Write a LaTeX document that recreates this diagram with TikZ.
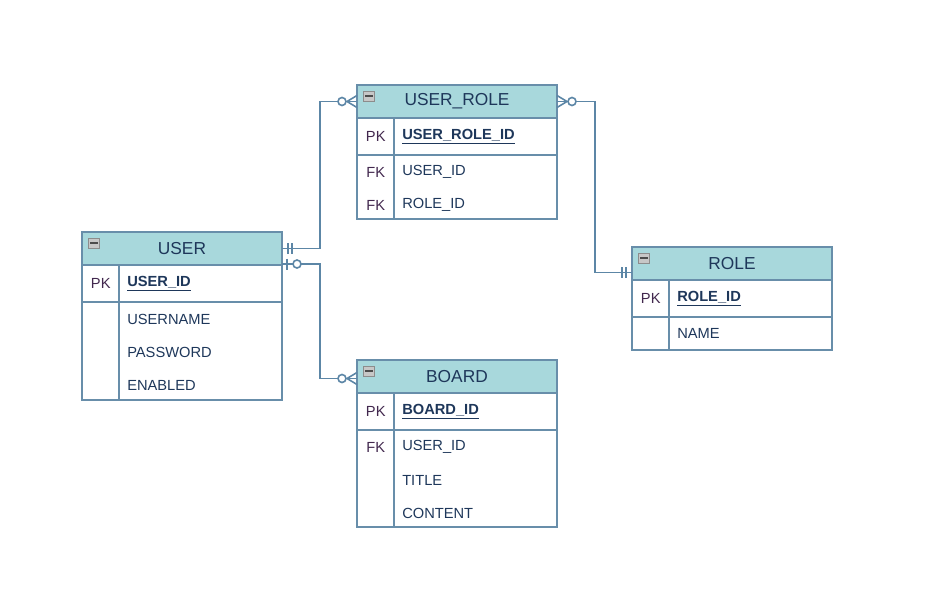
\documentclass[tikz,border=0pt]{standalone}
\usepackage{fontspec}
\setmainfont{Liberation Sans}
\usepackage{tikz}
\usetikzlibrary{positioning, calc}
\definecolor{headfill}{RGB}{168,216,220}
\definecolor{tblborder}{RGB}{104,142,170}
\definecolor{linkblue}{RGB}{92,134,166}
\definecolor{textnavy}{RGB}{30,55,90}
\definecolor{keymaroon}{RGB}{66,40,78}

\tikzset{
    tblline/.style={draw=tblborder, line width=0.9pt, outer sep=0pt},
    tablehead/.style={tblline, fill=headfill, minimum width=150pt, minimum height=24.75pt,
        inner sep=0pt, text=textnavy, font=\fontsize{13}{15}\selectfont},
    pkrow/.style={tblline, minimum width=150pt, minimum height=27.75pt, inner sep=0pt},
    attrbox/.style={tblline, minimum width=150pt, inner sep=0pt},
    keytext/.style={minimum width=27.75pt, minimum height=24.4pt, inner sep=0pt,
        text=keymaroon, font=\fontsize{11}{13}\selectfont},
    fieldtext/.style={text width=105pt, minimum height=24.4pt, inner sep=0pt,
        text=textnavy, font=\fontsize{11}{13}\selectfont},
    erline/.style={draw=linkblue, line width=1.2pt},
    pics/minbox/.style={code={
        \draw[draw=black!45, fill=black!22] (-5.5,-5) rectangle (5.5,5);
        \fill[black!70] (-4,-0.9) rectangle (4,0.9);
    }},
    pics/zeromany/.style={code={
        \draw[erline] (-10,0) -- (0,-6) (-10,0) -- (0,6);
        \draw[erline, fill=white] (-15,0) circle[radius=3pt];
    }},
    pics/onlyone/.style={code={
        \draw[erline] (-10,-5.5) -- (-10,5.5) (-6,-5.5) -- (-6,5.5);
    }},
    pics/zeroone/.style={code={
        \draw[erline] (-5,-5.5) -- (-5,5.5);
        \draw[erline, fill=white] (-15,0) circle[radius=3pt];
    }}
}

\begin{document}
\begin{tikzpicture}[x=0.75pt, y=-0.75pt]
    \useasboundingbox (0,0) rectangle (931,597);

    % USER
    \node[tablehead] (userhead) at (182,248.5) {USER};
    \node[pkrow, below=0pt of userhead] (userpk) {};
    \node[attrbox, minimum height=73.5pt, below=0pt of userpk] (userattr) {};
    \node[keytext, right=0pt of userpk.west] (userpkkey) {PK};
    \node[fieldtext, right=33.75pt of userpk.west] (userid) {\textbf{\underline{USER\_ID}}};
    \node[fieldtext, below right=0.6pt and 33.75pt of userattr.north west] (username) {USERNAME};
    \node[fieldtext, below=0pt of username] (password) {PASSWORD};
    \node[fieldtext, below=0pt of password] (enabled) {ENABLED};
    \draw[tblline] ($(userpk.north west)+(37,0)$) -- ($(userattr.south west)+(37,0)$);
    \pic at ($(userhead.north west)+(11.5,11)$) {minbox};

    % USER_ROLE
    \node[tablehead] (urhead) at (457,101.5) {USER\_ROLE};
    \node[pkrow, below=0pt of urhead] (urpk) {};
    \node[attrbox, minimum height=48pt, below=0pt of urpk] (urattr) {};
    \node[keytext, right=0pt of urpk.west] (urpkkey) {PK};
    \node[fieldtext, right=33.75pt of urpk.west] (urid) {\textbf{\underline{USER\_ROLE\_ID}}};
    \node[fieldtext, below right=0.4pt and 33.75pt of urattr.north west] (uruserid) {USER\_ID};
    \node[fieldtext, below=0pt of uruserid] (urroleid) {ROLE\_ID};
    \node[keytext, anchor=west] (urfkone) at (urattr.west |- uruserid) {FK};
    \node[keytext, anchor=west] (urfktwo) at (urattr.west |- urroleid) {FK};
    \draw[tblline] ($(urpk.north west)+(37,0)$) -- ($(urattr.south west)+(37,0)$);
    \pic at ($(urhead.north west)+(11.5,11)$) {minbox};

    % ROLE
    \node[tablehead] (rolehead) at (732,263.5) {ROLE};
    \node[pkrow, below=0pt of rolehead] (rolepk) {};
    \node[attrbox, minimum height=24.75pt, below=0pt of rolepk] (roleattr) {};
    \node[keytext, right=0pt of rolepk.west] (rolepkkey) {PK};
    \node[fieldtext, right=33.75pt of rolepk.west] (roleid) {\textbf{\underline{ROLE\_ID}}};
    \node[fieldtext, right=33.75pt of roleattr.west] (rolename) {NAME};
    \draw[tblline] ($(rolepk.north west)+(37,0)$) -- ($(roleattr.south west)+(37,0)$);
    \pic at ($(rolehead.north west)+(11.5,11)$) {minbox};

    % BOARD
    \node[tablehead] (boardhead) at (457,376.5) {BOARD};
    \node[pkrow, below=0pt of boardhead] (boardpk) {};
    \node[attrbox, minimum height=72.75pt, below=0pt of boardpk] (boardattr) {};
    \node[keytext, right=0pt of boardpk.west] (boardpkkey) {PK};
    \node[fieldtext, right=33.75pt of boardpk.west] (boardid) {\textbf{\underline{BOARD\_ID}}};
    \node[fieldtext, below right=0.4pt and 33.75pt of boardattr.north west] (boarduserid) {USER\_ID};
    \node[fieldtext, below=0pt of boarduserid] (boardtitle) {TITLE};
    \node[fieldtext, below=0pt of boardtitle] (boardcontent) {CONTENT};
    \node[keytext, anchor=west] (boardfk) at (boardattr.west |- boarduserid) {FK};
    \draw[tblline] ($(boardpk.north west)+(37,0)$) -- ($(boardattr.south west)+(37,0)$);
    \pic at ($(boardhead.north west)+(11.5,11)$) {minbox};

    % relations
    \coordinate (userlow) at ($(userhead.south east)+(0,-1)$);
    \coordinate (boardin) at ($(boardhead.west)+(0,2)$);
    \coordinate (rolein) at ($(rolehead.west)+(0,9)$);
    \draw[erline] (userhead.east) -- ++(38,0) |- (urhead.west);
    \draw[erline] (userlow) -- ++(38,0) |- (boardin);
    \draw[erline] (urhead.east) -- ++(38,0) |- (rolein);
    \pic[xscale=-1] at (userhead.east) {onlyone};
    \pic at (urhead.west) {zeromany};
    \pic[xscale=-1] at (userlow) {zeroone};
    \pic at (boardin) {zeromany};
    \pic[xscale=-1] at (urhead.east) {zeromany};
    \pic at (rolein) {onlyone};
\end{tikzpicture}
\end{document}
